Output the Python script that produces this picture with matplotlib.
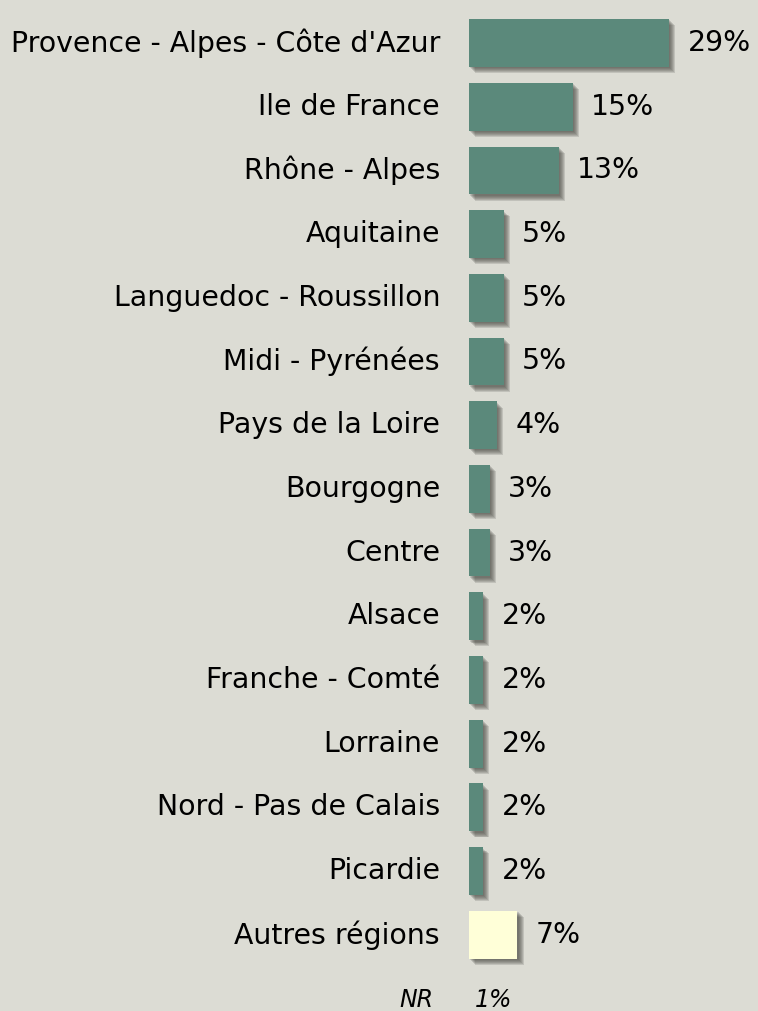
import matplotlib.pyplot as plt
from matplotlib import patheffects as pe

regions = ["Provence - Alpes - Côte d'Azur", "Ile de France", "Rhône - Alpes",
           "Aquitaine", "Languedoc - Roussillon", "Midi - Pyrénées",
           "Pays de la Loire", "Bourgogne", "Centre", "Alsace",
           "Franche - Comté", "Lorraine", "Nord - Pas de Calais", "Picardie",
           "Autres régions"]
valeurs = [29, 15, 13, 5, 5, 5, 4, 3, 3, 2, 2, 2, 2, 2, 7]
nr_label = "NR"
nr_valeur = 1

fond = '#dcdcd4'
vert = '#5b897b'
jaune = '#ffffd8'

fig = plt.figure(figsize=(7.58, 10.11), dpi=100, facecolor=fond)
ax = fig.add_axes([469 / 758, 0, 1 - 469 / 758, 1])
ax.set_facecolor(fond)
ax.set_xlim(0, 289 / 6.9)
ax.set_ylim(15.197, -0.675)
ax.axis('off')

couleurs = [vert] * (len(valeurs) - 1) + [jaune]
# ombre floue approximative : plusieurs ombres decalees et transparentes
ombre = [pe.SimplePatchShadow(offset=(d, -d), shadow_rgbFace='#4a4a44', alpha=0.18)
         for d in (1.0, 1.7, 2.4, 3.1, 3.8, 4.5)] + [pe.Normal()]
barres = ax.barh(range(len(valeurs)), valeurs, height=0.75, color=couleurs)
for b in barres:
    b.set_path_effects(ombre)

for i, (nom, v) in enumerate(zip(regions, valeurs)):
    ax.text(-29 / 6.9, i, nom, ha='right', va='center', fontsize=20.4, clip_on=False)
    ax.text(v + 2.7, i, f'{v}%', ha='left', va='center', fontsize=20.4)

n = len(valeurs)
ax.text(-36 / 6.9, n + 0.03, nr_label, ha='right', va='center', fontsize=17, style='italic', clip_on=False)
ax.text(0.8, n + 0.03, f'{nr_valeur}%', ha='left', va='center', fontsize=17, style='italic')

fig.savefig('out.png', dpi=100, facecolor=fond)
